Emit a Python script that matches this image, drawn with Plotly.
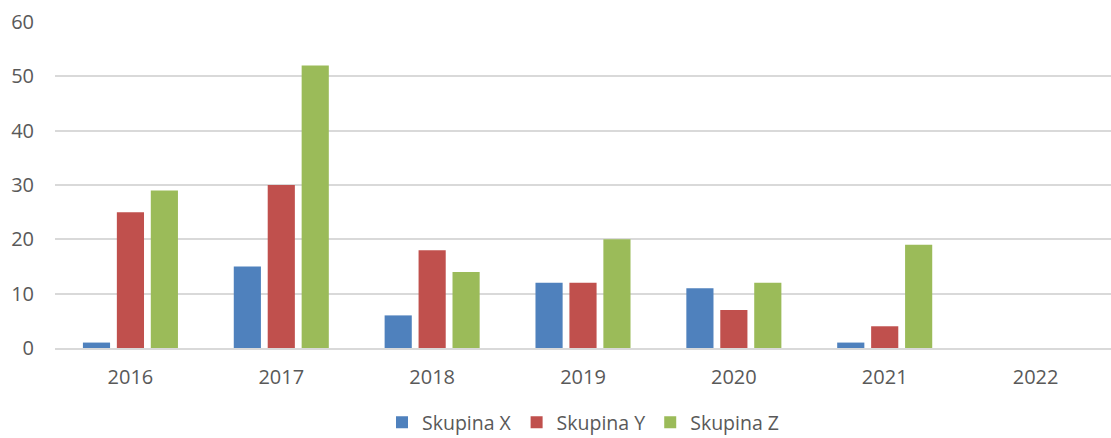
import plotly.graph_objects as go

years = ["2016", "2017", "2018", "2019", "2020", "2021", "2022"]
skupina_x = [1, 15, 6, 12, 11, 1, 0]
skupina_y = [25, 30, 18, 12, 7, 4, 0]
skupina_z = [29, 52, 14, 20, 12, 19, 0]

series = [
    ("Skupina X", skupina_x, "#4F81BD"),
    ("Skupina Y", skupina_y, "#C0504D"),
    ("Skupina Z", skupina_z, "#9BBB59"),
]

fig = go.Figure()
for name, vals, col in series:
    fig.add_trace(go.Bar(x=years, y=vals, name=name, marker=dict(color=col, line=dict(width=0))))

font_fam = "'Open Sans', sans-serif"
fig.update_layout(
    width=1111, height=438,
    margin=dict(l=55, r=0, t=22, b=90),
    paper_bgcolor="white", plot_bgcolor="white",
    barmode="group", bargap=0.325, bargroupgap=0.2,
    font=dict(family=font_fam, size=20, color="#595959"),
    xaxis=dict(showgrid=False, showline=True, linecolor="#D9D9D9", linewidth=1.5,
               ticks="", automargin=False, ticklabelstandoff=10,
               tickfont=dict(size=20, color="#595959")),
    yaxis=dict(range=[0, 60], dtick=10, showgrid=True, gridcolor="#D9D9D9", gridwidth=1.5,
               zeroline=False, showline=False, ticks="", ticklabelstandoff=20, automargin=False,
               tickfont=dict(size=20, color="#595959")),
    legend=dict(orientation="h", x=0.5, xanchor="center", yref="container", y=0.035, yanchor="middle",
                font=dict(size=19.5, color="#595959"), itemwidth=30, tracegroupgap=0),
)
fig.write_html("out.html", post_script="document.body.style.margin='0';",
               config={"displayModeBar": False})
